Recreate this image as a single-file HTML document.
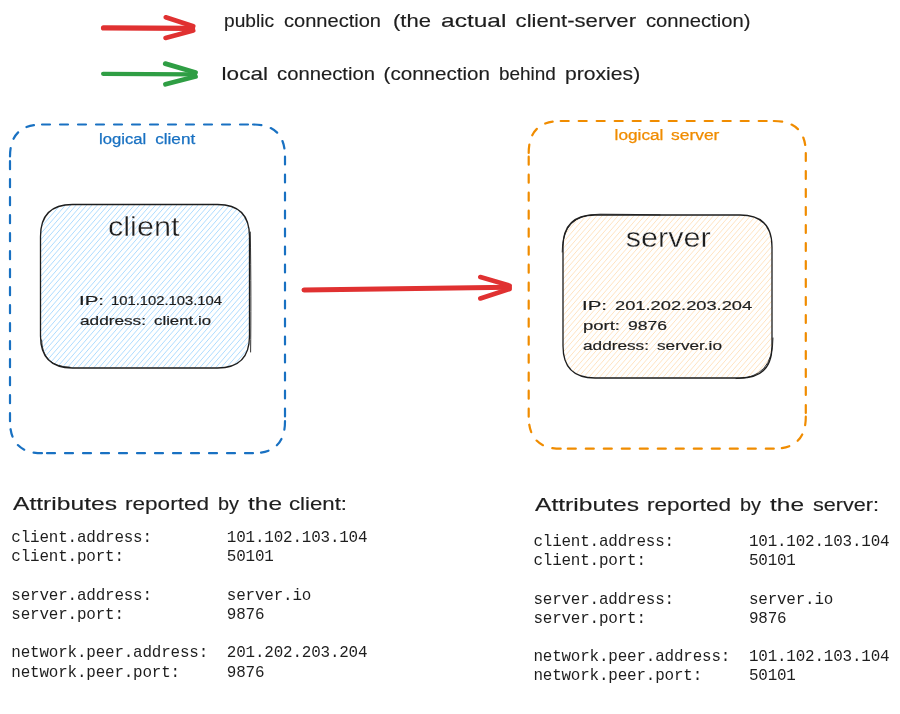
<!DOCTYPE html>
<html><head><meta charset="utf-8"><title>connections</title>
<style>
html,body{margin:0;padding:0;background:#fff;width:900px;height:714px;overflow:hidden}
svg{display:block;will-change:transform}
.h{font-family:"Liberation Sans",sans-serif;fill:#1e1e1e}
.m{font-family:"Liberation Mono",monospace;fill:#1e1e1e;font-size:15.9px;letter-spacing:-0.165px}
</style></head>
<body>
<svg width="900" height="714" viewBox="0 0 900 714">
<defs>
<pattern id="hb" patternUnits="userSpaceOnUse" width="40" height="4" patternTransform="rotate(-49)">
<line x1="0" y1="2.0" x2="40" y2="2.0" stroke="#a5d8ff" stroke-width="0.9"/>
</pattern>
<pattern id="ho" patternUnits="userSpaceOnUse" width="40" height="4" patternTransform="rotate(-49)">
<line x1="0" y1="2.0" x2="40" y2="2.0" stroke="#ffd8a8" stroke-width="0.9"/>
</pattern>
</defs>
<rect width="900" height="714" fill="#fff"/>
<g fill="none" stroke-linecap="round" stroke-linejoin="round">
<path d="M103.5 27.9 L192.5 28.4" stroke="#e03131" stroke-width="5.2"/>
<path d="M165.7 17.3 L193.3 26.3 M165.5 38 L193.3 30.5" stroke="#e03131" stroke-width="4.6"/>
<path d="M103.1 73.8 L194 74.4" stroke="#2f9e44" stroke-width="4.2"/>
<path d="M165.3 63.6 L195.5 72.5 M165.5 84.3 L195.5 76.5" stroke="#2f9e44" stroke-width="4.8"/>
</g>
<g fill="none" stroke-width="2.2" stroke-dasharray="8 10" stroke-linecap="round">
<path d="M42 124.5 L253 124.5 M253 124.5 Q285 124.5 285 156.5 M285 156.5 L285 421.2 M285 421.2 Q285 453.2 253 453.2 M253 453.2 L42 453.2 M42 453.2 Q10 453.2 10 421.2 M10 421.2 L10 156.5 M10 156.5 Q10 124.5 42 124.5" stroke="#1971c2"/>
<path d="M560.7 121 L773.8 121 M773.8 121 Q805.8 121 805.8 153 M805.8 153 L805.8 416.7 M805.8 416.7 Q805.8 448.7 773.8 448.7 M773.8 448.7 L560.7 448.7 M560.7 448.7 Q528.7 448.7 528.7 416.7 M528.7 416.7 L528.7 153 M528.7 153 Q528.7 121 560.7 121" stroke="#f08c00"/>
</g>
<clipPath id="cc"><path d="M72.5 204.5 L217.5 204.5 Q249.5 204.5 249.5 236.5 L249.5 336 Q249.5 368 217.5 368 L72.5 368 Q40.5 368 40.5 336 L40.5 236.5 Q40.5 204.5 72.5 204.5 Z"/></clipPath>
<clipPath id="cs"><path d="M595 215 L740 215 Q772 215 772 247 L772 346 Q772 378 740 378 L595 378 Q563 378 563 346 L563 247 Q563 215 595 215 Z"/></clipPath>
<g clip-path="url(#cc)"><path d="M-217.97 500.73L306.87 -103.04M-214.95 503.35L309.89 -100.42M-211.94 505.98L312.91 -97.79M-208.92 508.60L315.93 -95.17M-205.90 511.22L318.95 -92.54M-202.88 513.85L321.97 -89.92M-199.86 516.47L324.99 -87.30M-196.84 519.10L328.01 -84.67M-193.82 521.72L331.02 -82.05M-190.80 524.35L334.04 -79.42M-187.79 526.97L337.06 -76.80M-184.77 529.59L340.08 -74.17M-181.75 532.22L343.10 -71.55M-178.73 534.84L346.12 -68.93M-175.71 537.47L349.14 -66.30M-172.69 540.09L352.16 -63.68M-169.67 542.72L355.18 -61.05M-166.65 545.34L358.19 -58.43M-163.63 547.96L361.21 -55.80M-160.62 550.59L364.23 -53.18M-157.60 553.21L367.25 -50.56M-154.58 555.84L370.27 -47.93M-151.56 558.46L373.29 -45.31M-148.54 561.08L376.31 -42.68M-145.52 563.71L379.33 -40.06M-142.50 566.33L382.34 -37.43M-139.48 568.96L385.36 -34.81M-136.46 571.58L388.38 -32.19M-133.45 574.21L391.40 -29.56M-130.43 576.83L394.42 -26.94M-127.41 579.45L397.44 -24.31M-124.39 582.08L400.46 -21.69M-121.37 584.70L403.48 -19.06M-118.35 587.33L406.50 -16.44M-115.33 589.95L409.51 -13.82M-112.31 592.58L412.53 -11.19M-109.30 595.20L415.55 -8.57M-106.28 597.82L418.57 -5.94M-103.26 600.45L421.59 -3.32M-100.24 603.07L424.61 -0.70M-97.22 605.70L427.63 1.93M-94.20 608.32L430.65 4.55M-91.18 610.95L433.67 7.18M-88.16 613.57L436.68 9.80M-85.14 616.19L439.70 12.43M-82.13 618.82L442.72 15.05M-79.11 621.44L445.74 17.67M-76.09 624.07L448.76 20.30M-73.07 626.69L451.78 22.92M-70.05 629.31L454.80 25.55M-67.03 631.94L457.82 28.17M-64.01 634.56L460.83 30.80M-60.99 637.19L463.85 33.42M-57.97 639.81L466.87 36.04M-54.96 642.44L469.89 38.67M-51.94 645.06L472.91 41.29M-48.92 647.68L475.93 43.92M-45.90 650.31L478.95 46.54M-42.88 652.93L481.97 49.17M-39.86 655.56L484.99 51.79M-36.84 658.18L488.00 54.41M-33.82 660.81L491.02 57.04M-30.81 663.43L494.04 59.66M-27.79 666.05L497.06 62.29M-24.77 668.68L500.08 64.91M-21.75 671.30L503.10 67.53M-18.73 673.93L506.12 70.16M-15.71 676.55L509.14 72.78" stroke="#a5d8ff" stroke-width="0.9" fill="none"/></g>
<g clip-path="url(#cs)"><path d="M303.73 510.28L828.57 -93.49M306.75 512.91L831.59 -90.86M309.76 515.53L834.61 -88.24M312.78 518.15L837.63 -85.61M315.80 520.78L840.65 -82.99M318.82 523.40L843.67 -80.36M321.84 526.03L846.69 -77.74M324.86 528.65L849.71 -75.12M327.88 531.28L852.72 -72.49M330.90 533.90L855.74 -69.87M333.91 536.52L858.76 -67.24M336.93 539.15L861.78 -64.62M339.95 541.77L864.80 -62.00M342.97 544.40L867.82 -59.37M345.99 547.02L870.84 -56.75M349.01 549.65L873.86 -54.12M352.03 552.27L876.87 -51.50M355.05 554.89L879.89 -48.87M358.07 557.52L882.91 -46.25M361.08 560.14L885.93 -43.63M364.10 562.77L888.95 -41.00M367.12 565.39L891.97 -38.38M370.14 568.01L894.99 -35.75M373.16 570.64L898.01 -33.13M376.18 573.26L901.03 -30.50M379.20 575.89L904.04 -27.88M382.22 578.51L907.06 -25.26M385.23 581.14L910.08 -22.63M388.25 583.76L913.10 -20.01M391.27 586.38L916.12 -17.38M394.29 589.01L919.14 -14.76M397.31 591.63L922.16 -12.13M400.33 594.26L925.18 -9.51M403.35 596.88L928.20 -6.89M406.37 599.51L931.21 -4.26M409.39 602.13L934.23 -1.64M412.40 604.75L937.25 0.99M415.42 607.38L940.27 3.61M418.44 610.00L943.29 6.23M421.46 612.63L946.31 8.86M424.48 615.25L949.33 11.48M427.50 617.88L952.35 14.11M430.52 620.50L955.36 16.73M433.54 623.12L958.38 19.36M436.56 625.75L961.40 21.98M439.57 628.37L964.42 24.60M442.59 631.00L967.44 27.23M445.61 633.62L970.46 29.85M448.63 636.24L973.48 32.48M451.65 638.87L976.50 35.10M454.67 641.49L979.52 37.73M457.69 644.12L982.53 40.35M460.71 646.74L985.55 42.97M463.72 649.37L988.57 45.60M466.74 651.99L991.59 48.22M469.76 654.61L994.61 50.85M472.78 657.24L997.63 53.47M475.80 659.86L1000.65 56.10M478.82 662.49L1003.67 58.72M481.84 665.11L1006.69 61.34M484.86 667.74L1009.70 63.97M487.88 670.36L1012.72 66.59M490.89 672.98L1015.74 69.22M493.91 675.61L1018.76 71.84M496.93 678.23L1021.78 74.47M499.95 680.86L1024.80 77.09M502.97 683.48L1027.82 79.71M505.99 686.11L1030.84 82.34" stroke="#ffd8a8" stroke-width="0.72" fill="none"/></g>
<path d="M72.5 204.5 L217.5 204.5 Q249.5 204.5 249.5 236.5 L249.5 336 Q249.5 368 217.5 368 L72.5 368 Q40.5 368 40.5 336 L40.5 236.5 Q40.5 204.5 72.5 204.5 Z" fill="none" stroke="#1e1e1e" stroke-width="1.3"/>
<path d="M595 215 L740 215 Q772 215 772 247 L772 346 Q772 378 740 378 L595 378 Q563 378 563 346 L563 247 Q563 215 595 215 Z" fill="none" stroke="#1e1e1e" stroke-width="1.3"/>
<g fill="none" stroke="#1e1e1e" stroke-width="0.9" stroke-linecap="round">
<path d="M250.3 232 C251 275 251 320 250.6 352"/>
<path d="M41.6 340 Q42.2 366.6 70 367.2"/>
<path d="M562.2 252 Q561.6 214 600 214.2 Q630 214.3 660 214.9"/>
<path d="M773 338 Q773.2 378.6 736 378.6"/>
</g>
<g fill="none" stroke="#e03131" stroke-linecap="round" stroke-linejoin="round">
<path d="M304 289.9 L509.5 287.3" stroke-width="5"/>
<path d="M480.3 277 L509.6 285.6 M480.3 298.5 L509.6 289" stroke-width="4.6"/>
</g>
<text id="t1_0" class="h" x="224.0" y="27.3" font-size="18.5" style="fill:#1e1e1e;stroke:#1e1e1e;stroke-width:0.15px" textLength="50.0" lengthAdjust="spacingAndGlyphs">public</text>
<text id="t1_1" class="h" x="284.0" y="27.3" font-size="18.5" style="fill:#1e1e1e;stroke:#1e1e1e;stroke-width:0.15px" textLength="97.0" lengthAdjust="spacingAndGlyphs">connection</text>
<text id="t1_2" class="h" x="393.0" y="27.3" font-size="18.5" style="fill:#1e1e1e;stroke:#1e1e1e;stroke-width:0.15px" textLength="38.0" lengthAdjust="spacingAndGlyphs">(the</text>
<text id="t1_3" class="h" x="441.0" y="27.3" font-size="18.5" style="fill:#1e1e1e;stroke:#1e1e1e;stroke-width:0.15px" textLength="65.4" lengthAdjust="spacingAndGlyphs">actual</text>
<text id="t1_4" class="h" x="515.6" y="27.3" font-size="18.5" style="fill:#1e1e1e;stroke:#1e1e1e;stroke-width:0.15px" textLength="120.4" lengthAdjust="spacingAndGlyphs">client-server</text>
<text id="t1_5" class="h" x="646.0" y="27.3" font-size="18.5" style="fill:#1e1e1e;stroke:#1e1e1e;stroke-width:0.15px" textLength="104.4" lengthAdjust="spacingAndGlyphs">connection)</text>
<text id="t2_0" class="h" x="221.6" y="80.3" font-size="18.5" style="fill:#1e1e1e;stroke:#1e1e1e;stroke-width:0.15px" textLength="46.4" lengthAdjust="spacingAndGlyphs">local</text>
<text id="t2_1" class="h" x="277.0" y="80.3" font-size="18.5" style="fill:#1e1e1e;stroke:#1e1e1e;stroke-width:0.15px" textLength="98.0" lengthAdjust="spacingAndGlyphs">connection</text>
<text id="t2_2" class="h" x="383.6" y="80.3" font-size="18.5" style="fill:#1e1e1e;stroke:#1e1e1e;stroke-width:0.15px" textLength="106.4" lengthAdjust="spacingAndGlyphs">(connection</text>
<text id="t2_3" class="h" x="499.0" y="80.3" font-size="18.5" style="fill:#1e1e1e;stroke:#1e1e1e;stroke-width:0.15px" textLength="56.8" lengthAdjust="spacingAndGlyphs">behind</text>
<text id="t2_4" class="h" x="565.0" y="80.3" font-size="18.5" style="fill:#1e1e1e;stroke:#1e1e1e;stroke-width:0.15px" textLength="75.2" lengthAdjust="spacingAndGlyphs">proxies)</text>
<text id="t3_0" class="h" x="99.0" y="143.7" font-size="14" style="fill:#1971c2;stroke:#1971c2;stroke-width:0.25px" textLength="47.2" lengthAdjust="spacingAndGlyphs">logical</text>
<text id="t3_1" class="h" x="155.2" y="143.7" font-size="14" style="fill:#1971c2;stroke:#1971c2;stroke-width:0.25px" textLength="40.0" lengthAdjust="spacingAndGlyphs">client</text>
<text id="t4_0" class="h" x="614.6" y="139.5" font-size="14" style="fill:#f08c00;stroke:#f08c00;stroke-width:0.25px" textLength="48.8" lengthAdjust="spacingAndGlyphs">logical</text>
<text id="t4_1" class="h" x="671.0" y="139.5" font-size="14" style="fill:#f08c00;stroke:#f08c00;stroke-width:0.25px" textLength="48.4" lengthAdjust="spacingAndGlyphs">server</text>
<text id="t5_0" class="h" x="108.0" y="236.2" font-size="27" style="fill:#1e1e1e;stroke:#fff;stroke-width:0.35px" textLength="71.4" lengthAdjust="spacingAndGlyphs">client</text>
<text id="t6_0" class="h" x="79.0" y="305" font-size="13.7" style="fill:#1e1e1e;stroke:#1e1e1e;stroke-width:0.2px" textLength="25.0" lengthAdjust="spacingAndGlyphs">IP:</text>
<text id="t6_1" class="h" x="111.0" y="305" font-size="13.7" style="fill:#1e1e1e;stroke:#1e1e1e;stroke-width:0.2px" textLength="111.0" lengthAdjust="spacingAndGlyphs">101.102.103.104</text>
<text id="t7_0" class="h" x="80.0" y="325" font-size="13.7" style="fill:#1e1e1e;stroke:#1e1e1e;stroke-width:0.2px" textLength="66.0" lengthAdjust="spacingAndGlyphs">address:</text>
<text id="t7_1" class="h" x="154.0" y="325" font-size="13.7" style="fill:#1e1e1e;stroke:#1e1e1e;stroke-width:0.2px" textLength="57.0" lengthAdjust="spacingAndGlyphs">client.io</text>
<text id="t8_0" class="h" x="625.8" y="246.9" font-size="27" style="fill:#1e1e1e;stroke:#fff;stroke-width:0.35px" textLength="84.8" lengthAdjust="spacingAndGlyphs">server</text>
<text id="t9_0" class="h" x="582.0" y="309.8" font-size="13.7" style="fill:#1e1e1e;stroke:#1e1e1e;stroke-width:0.2px" textLength="25.0" lengthAdjust="spacingAndGlyphs">IP:</text>
<text id="t9_1" class="h" x="615.0" y="309.8" font-size="13.7" style="fill:#1e1e1e;stroke:#1e1e1e;stroke-width:0.2px" textLength="137.2" lengthAdjust="spacingAndGlyphs">201.202.203.204</text>
<text id="t10_0" class="h" x="583.0" y="329.8" font-size="13.7" style="fill:#1e1e1e;stroke:#1e1e1e;stroke-width:0.2px" textLength="37.0" lengthAdjust="spacingAndGlyphs">port:</text>
<text id="t10_1" class="h" x="628.0" y="329.8" font-size="13.7" style="fill:#1e1e1e;stroke:#1e1e1e;stroke-width:0.2px" textLength="39.0" lengthAdjust="spacingAndGlyphs">9876</text>
<text id="t11_0" class="h" x="583.0" y="349.8" font-size="13.7" style="fill:#1e1e1e;stroke:#1e1e1e;stroke-width:0.2px" textLength="66.0" lengthAdjust="spacingAndGlyphs">address:</text>
<text id="t11_1" class="h" x="657.0" y="349.8" font-size="13.7" style="fill:#1e1e1e;stroke:#1e1e1e;stroke-width:0.2px" textLength="65.0" lengthAdjust="spacingAndGlyphs">server.io</text>
<text id="t12_0" class="h" x="13.0" y="509.8" font-size="18.5" style="fill:#1e1e1e;stroke:#1e1e1e;stroke-width:0.15px" textLength="104.0" lengthAdjust="spacingAndGlyphs">Attributes</text>
<text id="t12_1" class="h" x="125.0" y="509.8" font-size="18.5" style="fill:#1e1e1e;stroke:#1e1e1e;stroke-width:0.15px" textLength="84.0" lengthAdjust="spacingAndGlyphs">reported</text>
<text id="t12_2" class="h" x="218.0" y="509.8" font-size="18.5" style="fill:#1e1e1e;stroke:#1e1e1e;stroke-width:0.15px" textLength="21.0" lengthAdjust="spacingAndGlyphs">by</text>
<text id="t12_3" class="h" x="248.0" y="509.8" font-size="18.5" style="fill:#1e1e1e;stroke:#1e1e1e;stroke-width:0.15px" textLength="34.0" lengthAdjust="spacingAndGlyphs">the</text>
<text id="t12_4" class="h" x="289.0" y="509.8" font-size="18.5" style="fill:#1e1e1e;stroke:#1e1e1e;stroke-width:0.15px" textLength="58.0" lengthAdjust="spacingAndGlyphs">client:</text>
<text id="t13_0" class="h" x="535.0" y="511" font-size="18.5" style="fill:#1e1e1e;stroke:#1e1e1e;stroke-width:0.15px" textLength="104.0" lengthAdjust="spacingAndGlyphs">Attributes</text>
<text id="t13_1" class="h" x="647.0" y="511" font-size="18.5" style="fill:#1e1e1e;stroke:#1e1e1e;stroke-width:0.15px" textLength="84.0" lengthAdjust="spacingAndGlyphs">reported</text>
<text id="t13_2" class="h" x="740.0" y="511" font-size="18.5" style="fill:#1e1e1e;stroke:#1e1e1e;stroke-width:0.15px" textLength="21.0" lengthAdjust="spacingAndGlyphs">by</text>
<text id="t13_3" class="h" x="770.0" y="511" font-size="18.5" style="fill:#1e1e1e;stroke:#1e1e1e;stroke-width:0.15px" textLength="34.0" lengthAdjust="spacingAndGlyphs">the</text>
<text id="t13_4" class="h" x="813.0" y="511" font-size="18.5" style="fill:#1e1e1e;stroke:#1e1e1e;stroke-width:0.15px" textLength="66.0" lengthAdjust="spacingAndGlyphs">server:</text>
<g class="m">
<text x="11.3" y="542.2">client.address:</text><text x="226.8" y="542.2">101.102.103.104</text>
<text x="11.3" y="561.4">client.port:</text><text x="226.8" y="561.4">50101</text>
<text x="11.3" y="599.8">server.address:</text><text x="226.8" y="599.8">server.io</text>
<text x="11.3" y="619">server.port:</text><text x="226.8" y="619">9876</text>
<text x="11.3" y="657.4">network.peer.address:</text><text x="226.8" y="657.4">201.202.203.204</text>
<text x="11.3" y="676.6">network.peer.port:</text><text x="226.8" y="676.6">9876</text>
<text x="533.4" y="546">client.address:</text><text x="748.9" y="546">101.102.103.104</text>
<text x="533.4" y="565.2">client.port:</text><text x="748.9" y="565.2">50101</text>
<text x="533.4" y="603.6">server.address:</text><text x="748.9" y="603.6">server.io</text>
<text x="533.4" y="622.8">server.port:</text><text x="748.9" y="622.8">9876</text>
<text x="533.4" y="661.2">network.peer.address:</text><text x="748.9" y="661.2">101.102.103.104</text>
<text x="533.4" y="680.4">network.peer.port:</text><text x="748.9" y="680.4">50101</text>
</g>
</svg>
</body></html>
